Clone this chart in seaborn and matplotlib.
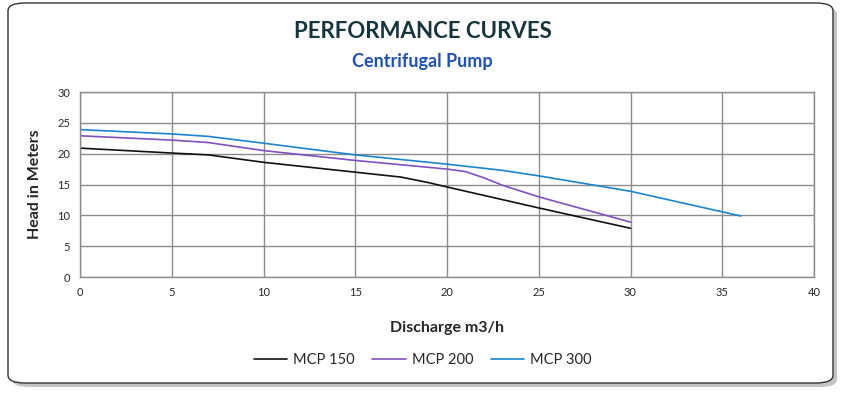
import numpy as np
import pandas as pd
import matplotlib
matplotlib.use("Agg")
import matplotlib.pyplot as plt
from matplotlib.patches import FancyBboxPatch
import seaborn as sns

# data
mcp150_q = [0, 5, 7, 10, 15, 17.5, 19, 20, 25, 30]
mcp150_h = [20.9, 20.1, 19.8, 18.6, 17.0, 16.2, 15.3, 14.6, 11.2, 7.9]

mcp200_q = [0, 5, 7, 10, 15, 20, 21, 22, 23, 25, 30]
mcp200_h = [22.9, 22.2, 21.8, 20.5, 18.9, 17.5, 17.1, 16.1, 14.9, 13.0, 8.9]

mcp300_q = [0, 5, 7, 10, 15, 20, 23, 25, 30, 36]
mcp300_h = [23.9, 23.2, 22.8, 21.7, 19.8, 18.3, 17.3, 16.4, 13.9, 9.9]

series_names = ["MCP 150", "MCP 200", "MCP 300"]
series_colors = ["#111111", "#8050c0", "#1a84d0"]

df = pd.concat([
    pd.DataFrame({"q": mcp150_q, "h": mcp150_h, "pump": "MCP 150"}),
    pd.DataFrame({"q": mcp200_q, "h": mcp200_h, "pump": "MCP 200"}),
    pd.DataFrame({"q": mcp300_q, "h": mcp300_h, "pump": "MCP 300"}),
])

sns.set_style("white")
plt.rcParams['font.family'] = ['Lato', 'DejaVu Sans']

fig = plt.figure(figsize=(8.45, 3.93), dpi=100)

# rounded frame with shadow
shadow = FancyBboxPatch((12/845, 1 - 387/393), 825/845, 380/393,
                        boxstyle="round,pad=0,rounding_size=0.02",
                        transform=fig.transFigure, facecolor="#c4c4c4",
                        edgecolor="none", zorder=0)
frame = FancyBboxPatch((8/845, 1 - 383/393), 825/845, 380/393,
                       boxstyle="round,pad=0,rounding_size=0.02",
                       transform=fig.transFigure, facecolor="white",
                       edgecolor="#333333", linewidth=1.0, zorder=1)
fig.patches.extend([shadow, frame])

ax = fig.add_axes([80/845, 1 - 277/393, 734/845, 185/393])
ax.set_zorder(2)
ax.patch.set_alpha(0)

sns.lineplot(data=df, x="q", y="h", hue="pump", hue_order=series_names,
             palette=series_colors, linewidth=1.2, ax=ax, sort=False,
             estimator=None)

ax.set_xlim(0, 40)
ax.set_ylim(0, 30)
ax.set_xticks(range(0, 41, 5))
ax.set_yticks(range(0, 31, 5))
ax.grid(True, color="#8c8c8c", linewidth=1)
for s in ax.spines.values():
    s.set_color("#8c8c8c")
    s.set_linewidth(1)
ax.tick_params(length=0, labelsize=8, pad=7)

ax.set_xlabel("Discharge m3/h", fontsize=11.5, fontweight="bold", labelpad=17)
ax.set_ylabel("Head in Meters", fontsize=11.5, fontweight="bold", labelpad=11)

fig.text(0.5, 1 - 32/393, "PERFORMANCE CURVES", ha="center", va="center",
         fontsize=16, fontweight="bold", color="#15343c")
fig.text(0.5, 1 - 62/393, "Centrifugal Pump", ha="center", va="center",
         fontsize=13, fontweight="bold", color="#1f50b5")

handles, labels = ax.get_legend_handles_labels()
ax.legend(handles, labels, loc="center", bbox_to_anchor=(0.5, 1 - 360/393),
          bbox_transform=fig.transFigure, ncol=3, frameon=False,
          fontsize=10.5, handlelength=2.3, columnspacing=1.2, handletextpad=0.4)

fig.savefig("out.png", dpi=100)
